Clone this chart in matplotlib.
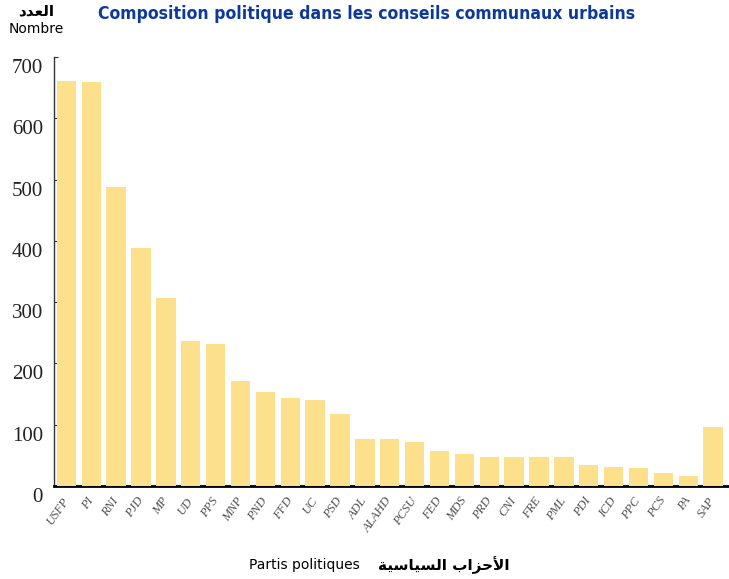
import matplotlib
matplotlib.use('Agg')
import matplotlib.pyplot as plt
import matplotlib.transforms as mtransforms
from matplotlib import font_manager

# Composition politique dans les conseils communaux urbains
partis = ['USFP', 'PI', 'RNI', 'PJD', 'MP', 'UD', 'PPS', 'MNP', 'PND', 'FFD',
          'UC', 'PSD', 'ADL', 'ALAHD', 'PCSU', 'FED', 'MDS', 'PRD', 'CNI',
          'FRE', 'PML', 'PDI', 'ICD', 'PPC', 'PCS', 'PA', 'SAP']
sieges = [661, 659, 488, 389, 306, 237, 231, 171, 153, 144,
          141, 117, 77, 77, 71, 57, 53, 48, 48,
          48, 48, 35, 31, 30, 22, 17, 96]
yticks = [0, 100, 200, 300, 400, 500, 600, 700]

# arabic text, pre-shaped presentation forms in visual order
ar_nombre = '\uFEA9\uFEAA\uFECC\uFEDF\uFE8D'
ar_partis = ('\uFE94\uFEF4\uFEB3\uFE8E\uFEF4\uFEB4\uFEDF\uFE8D' + ' ' +
             '\uFE8F\uFE8D\uFEB0\uFEA3\uFEF7\uFE8D')

bar_color = '#FDE08C'
title_color = '#0D3A9A'

# narrow font for the title if there is one
names = {f.name for f in font_manager.fontManager.ttflist}
condensed = [f for f in font_manager.fontManager.ttflist
             if f.name.startswith('DejaVu Sans') and 'ondensed' in f.fname]
if 'Liberation Sans Narrow' in names:
    title_font = dict(family='Liberation Sans Narrow', fontsize=14.6)
elif condensed:
    title_font = dict(family='DejaVu Sans', stretch='condensed', fontsize=12.6)
else:
    title_font = dict(family='DejaVu Sans', fontsize=11.2)

fig = plt.figure(figsize=(7.29, 5.79), dpi=100)
ax = fig.add_axes([0.074, 0.1606, 0.926, 0.741])

x = range(len(partis))
ax.bar(x, sieges, width=0.78, color=bar_color, zorder=3)

ax.set_xlim(-0.5, 26.64)
ax.set_ylim(0, 700)
ax.set_yticks(yticks)
ax.set_yticklabels([str(v) for v in yticks], family='Liberation Serif',
                   fontsize=15, color='#222222')
ax.tick_params(axis='y', direction='in', length=3, pad=8, color='#333333')
offset = mtransforms.ScaledTranslation(0, -0.09, fig.dpi_scale_trans)
for lab in ax.get_yticklabels():
    lab.set_transform(lab.get_transform() + offset)

ax.set_xticks(list(x))
ax.set_xticklabels(partis, family='Liberation Serif', style='italic',
                   fontsize=9, color='#505050', rotation=55,
                   ha='right', va='center', rotation_mode='anchor')
ax.tick_params(axis='x', length=0, pad=9)

ax.spines['top'].set_visible(False)
ax.spines['right'].set_visible(False)
ax.spines['left'].set_color('#333333')
ax.spines['left'].set_linewidth(1)
ax.spines['bottom'].set_color('black')
ax.spines['bottom'].set_linewidth(2)

fig.text(0.503, 1 - 14 / 579, 'Composition politique dans les conseils communaux urbains',
         weight='bold', color=title_color, ha='center', va='center', **title_font)
fig.text(36 / 729, 1 - 11 / 579, ar_nombre, family='DejaVu Sans', weight='bold',
         fontsize=11, ha='center', va='center')
fig.text(36 / 729, 1 - 29 / 579, 'Nombre', family='DejaVu Sans',
         fontsize=10, ha='center', va='center')
fig.text(304 / 729, 1 - 565 / 579, 'Partis politiques', family='DejaVu Sans',
         fontsize=10, ha='center', va='center')
fig.text(444 / 729, 1 - 565 / 579, ar_partis, family='DejaVu Sans', weight='bold',
         fontsize=11, ha='center', va='center')

fig.savefig('out.png', dpi=100)
